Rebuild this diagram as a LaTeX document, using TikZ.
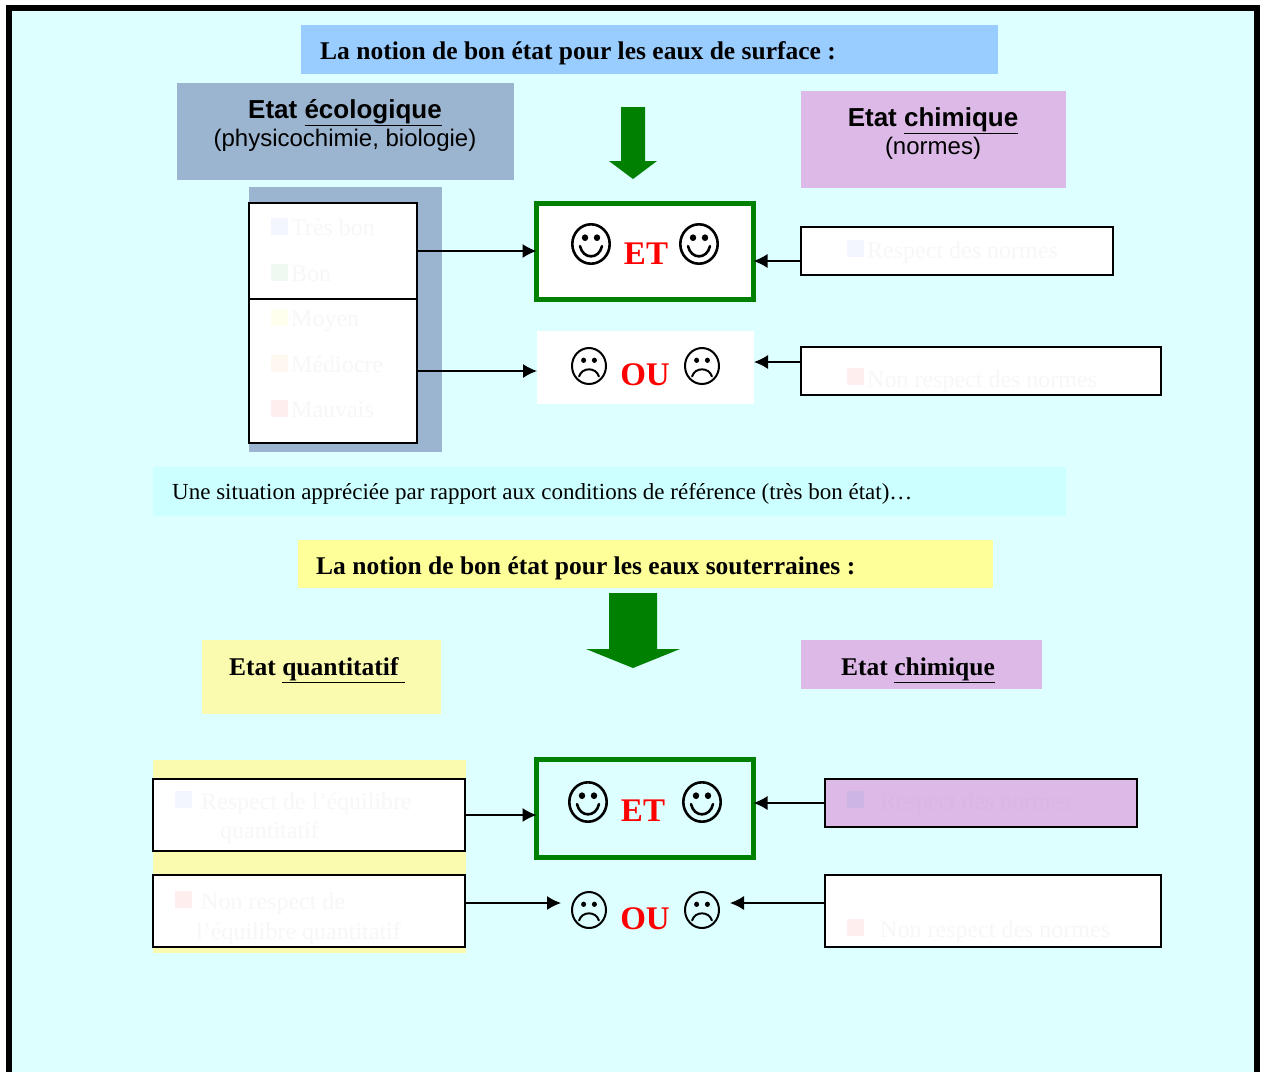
\documentclass[tikz,border=0pt]{standalone}
\usepackage{fontspec}
\setmainfont{Liberation Serif}
\setsansfont{Liberation Sans}
\usetikzlibrary{arrows.meta,calc}
\definecolor{bgc}{HTML}{DDFFFF}
\definecolor{sky}{HTML}{99CCFF}
\definecolor{steel}{HTML}{9BB5D0}
\definecolor{lilac}{HTML}{DDB9E8}
\definecolor{pale}{HTML}{CCFFFF}
\definecolor{lemon}{HTML}{FFFF99}
\definecolor{lemonb}{HTML}{FBFBB0}
\definecolor{gr}{HTML}{008000}
\definecolor{faint}{HTML}{F6F7F8}
\definecolor{faintb}{HTML}{DAB6E4}
\definecolor{sqblue}{HTML}{F3F6FF}
\definecolor{sqgreen}{HTML}{F0F8F2}
\definecolor{sqyellow}{HTML}{FFFFEE}
\definecolor{sqorange}{HTML}{FFF8F0}
\definecolor{sqred}{HTML}{FFEEEE}
\definecolor{sqlilac}{HTML}{CDB6E6}
\newcommand{\fs}[1]{\fontsize{#1pt}{#1pt}\selectfont}
\newcommand{\bx}[6]{%
  \pgfmathsetmacro{\bxw}{#4-#2}\pgfmathsetmacro{\bxh}{#5-#3}%
  \pgfmathsetmacro{\bxx}{(#4+#2)/2}\pgfmathsetmacro{\bxy}{(#5+#3)/2}%
  \node[inner sep=0pt,outer sep=0pt,minimum width=\bxw pt,minimum height=\bxh pt,#6] (#1) at (\bxx,\bxy) {};}
\tikzset{
  x=1pt,y=-1pt,
  blk/.style={draw=black,line width=1.9pt},
  etbox/.style={draw=gr,line width=5pt},
  con/.style={draw=black,line width=1.3pt,-{Latex[length=14pt,width=14pt]}},
  ttl/.style={anchor=base west,inner sep=0pt,font=\bfseries\fs{25.5}},
  ttls/.style={anchor=base,inner sep=0pt,font=\sffamily\bfseries\fs{26}},
  sub/.style={anchor=base,inner sep=0pt,font=\sffamily\fs{24}},
  capt/.style={anchor=base west,inner sep=0pt,font=\fs{23}},
  fnt/.style={anchor=base west,inner sep=0pt,font=\fs{24},text=faint},
  fntb/.style={fnt,text=faintb},
  word/.style={anchor=base,inner sep=0pt,font=\bfseries\fs{33},text=red},
  bullet/.style={minimum size=17pt,inner sep=0pt,outer sep=0pt,fill=#1},
  pics/happy/.style args={#1/#2}{code={
    \draw[line width=2.6pt] (0,0) ellipse[x radius=#1-1.3,y radius=#2-1.3];
    \fill (-.3*#1,-.3*#2) ellipse[x radius=.16*#1,y radius=.16*#2];
    \fill (.3*#1,-.3*#2) ellipse[x radius=.16*#1,y radius=.16*#2];
    \draw[line width=2.6pt,line cap=round] (-.55*#1,.1*#2) .. controls (-.4*#1,.75*#2) and (.4*#1,.75*#2) .. (.55*#1,.1*#2);
  }},
  pics/sad/.style args={#1/#2}{code={
    \draw[line width=2pt] (0,0) ellipse[x radius=#1-1,y radius=#2-1];
    \fill (-.3*#1,-.3*#2) ellipse[x radius=.14*#1,y radius=.14*#2];
    \fill (.3*#1,-.3*#2) ellipse[x radius=.14*#1,y radius=.14*#2];
    \draw[line width=2pt,line cap=round] (-.55*#1,.55*#2) .. controls (-.4*#1,.05*#2) and (.4*#1,.05*#2) .. (.55*#1,.55*#2);
  }},
}
\begin{document}
\begin{tikzpicture}
\useasboundingbox (0,0) rectangle (1264,1072);
\fill[white] (0,0) rectangle (1264,1072);
\fill[bgc] (9,7.5) rectangle (1257,1072);
\draw[line width=6pt,black] (9,1072) -- (9,7.5) -- (1257,7.5) -- (1257,1072);

% upper headers
\bx{t1}{301}{25}{998}{74}{fill=sky}
\node[ttl] (t1t) at (320,59) {La notion de bon état pour les eaux de surface :};
\bx{eco}{177}{83}{514}{180}{fill=steel}
\node[ttls] (ecot) at (345,118) {Etat \underline{écologique}};
\node[sub] (ecos) at (345,146) {(physicochimie, biologie)};
\bx{chi}{801}{91}{1066}{188}{fill=lilac}
\node[ttls] (chit) at (933,126) {Etat \underline{chimique}};
\node[sub] (chis) at (933,154) {(normes)};
\fill[gr] (621,107) -- (645,107) -- (645,161) -- (657,161) -- (633,179) -- (609,161) -- (621,161) -- cycle;

% upper list
\bx{back}{249}{187}{442}{452}{fill=steel}
\bx{ltop}{249}{203}{417}{299}{blk,fill=white!60!white,fill=white}
\bx{lbot}{249}{299}{417}{443}{blk,fill=white}
\fill[white] (0,0) rectangle (0,0);
\node[bullet=sqblue,anchor=north west] (s1) at (271,218) {};
\node[fnt] (l1) at (291,235) {Très bon};
\node[bullet=sqgreen,anchor=north west] (s2) at (271,264) {};
\node[fnt] (l2) at (291,281) {Bon};
\node[bullet=sqyellow,anchor=north west] (s3) at (271,309) {};
\node[fnt] (l3) at (291,326) {Moyen};
\node[bullet=sqorange,anchor=north west] (s4) at (271,355) {};
\node[fnt] (l4) at (291,372) {Médiocre};
\node[bullet=sqred,anchor=north west] (s5) at (271,400) {};
\node[fnt] (l5) at (291,417) {Mauvais};

% upper centre
\bx{et1}{536.5}{203.5}{753.5}{299}{etbox,fill=white}
\bx{ou1}{537}{331}{754}{404}{fill=white}
\pic at (591,244) {happy=20/21};
\pic at (699,244) {happy=20/21};
\node[word] (et1t) at (646,264) {ET};
\pic at (589,366) {sad=18/19};
\pic at (702,366) {sad=18/19};
\node[word] (ou1t) at (645,385) {OU};

% upper right
\bx{r1}{801}{227}{1113}{275}{blk,fill=white}
\node[bullet=sqblue,anchor=north west] (s6) at (847,240) {};
\node[fnt] (r1t) at (867,258) {Respect des normes};
\bx{r2}{801}{347}{1161}{395}{blk,fill=white}
\node[bullet=sqred,anchor=north west] (s7) at (847,368) {};
\node[fnt] (r2t) at (867,387) {Non respect des normes};

\draw[con] (ltop.east) -- (ltop.east -| et1.west);
\draw[con] (lbot.east) ++(0,0) coordinate (a) (a |- 0,371) coordinate (a1) (a1) -- (a1 -| ou1.west);
\coordinate (b1) at ($(r1.west)+(0,10)$);
\draw[con] (b1) -- (b1 -| et1.east);
\coordinate (b2) at ($(r2.west)+(0,-9)$);
\draw[con] (b2) -- (b2 -| ou1.east);

% caption
\bx{cap}{153}{467}{1066}{516}{fill=pale}
\node[capt] (capt) at (172,499) {Une situation appréciée par rapport aux conditions de référence (très bon état)…};

% lower headers
\bx{t2}{298}{540}{993}{588}{fill=lemon}
\node[ttl] (t2t) at (316,574) {La notion de bon état pour les eaux souterraines :};
\fill[gr] (609,593) -- (657,593) -- (657,649) -- (680,649) -- (633,668) -- (586,649) -- (609,649) -- cycle;
\bx{qua}{202}{640}{441}{714}{fill=lemonb}
\node[ttl] (quat) at (229,675) {Etat \underline{quantitatif\ }};
\bx{chi2}{801}{640}{1042}{689}{fill=lilac}
\node[ttl] (chi2t) at (841,675) {Etat \underline{chimique}};

% lower left
\bx{back2}{153}{760}{466}{953}{fill=lemonb}
\bx{q1}{153}{779}{465}{851}{blk,fill=white}
\node[bullet=sqblue,anchor=north west] (s8) at (175,791) {};
\node[fnt] (q1a) at (201,809) {Respect de l’équilibre};
\node[fnt] (q1b) at (220,838) {quantitatif};
\bx{q2}{153}{875}{465}{947}{blk,fill=white}
\node[bullet=sqred,anchor=north west] (s9) at (175,891) {};
\node[fnt] (q2a) at (201,909) {Non respect de};
\node[fnt] (q2b) at (196,939) {l’équilibre quantitatif};

% lower centre
\bx{et2}{536.5}{759.5}{753.5}{857}{etbox}
\pic at (588,802) {happy=20/21};
\pic at (702,802) {happy=20/21};
\node[word] (et2t) at (643,821) {ET};
\coordinate (ou2l) at (561,903);
\coordinate (ou2r) at (730,903);
\pic at (589,910) {sad=18/19};
\pic at (702,910) {sad=18/19};
\node[word] (ou2t) at (645,929) {OU};

% lower right
\bx{r3}{825}{779}{1137}{827}{blk,fill=lilac}
\node[bullet=sqlilac,anchor=north west] (s10) at (847,791) {};
\node[fntb] (r3t) at (880,809) {Respect des normes};
\bx{r4}{825}{875}{1161}{947}{blk,fill=white}
\node[bullet=sqred,anchor=north west] (s11) at (847,919) {};
\node[fnt] (r4t) at (880,937) {Non respect des normes};

\draw[con] (q1.east) -- (q1.east -| et2.west);
\draw[con] (q2.east) ++(0,-8) coordinate (c) (c) -- (c -| ou2l);
\draw[con] (r3.west) -- (r3.west -| et2.east);
\coordinate (d) at ($(r4.west)+(0,-8)$);
\draw[con] (d) -- (d -| ou2r);
\end{tikzpicture}
\end{document}
